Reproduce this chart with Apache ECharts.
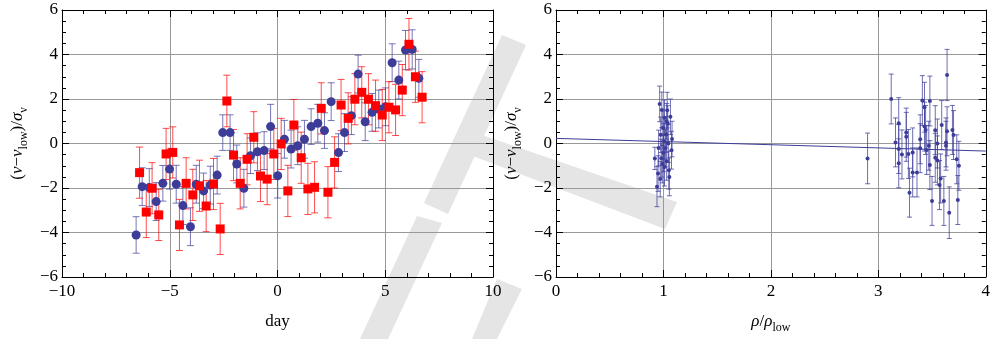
<!DOCTYPE html>
<html>
<head>
<meta charset="utf-8">
<script src="https://cdn.jsdelivr.net/npm/echarts@6/dist/echarts.min.js"></script>
<style>
html,body{margin:0;padding:0;background:#fff;}
#chart{width:993px;height:339px;}
</style>
</head>
<body>
<div id="chart"></div>
<script>
// left panel: residuals vs day
var blueX=[-6.56,-6.28,-5.95,-5.63,-5.32,-5.01,-4.70,-4.39,-4.04,-3.77,-3.43,-3.12,-2.80,-2.54,-2.20,-1.89,-1.56,-1.25,-0.93,-0.62,-0.32,0.01,0.32,0.63,0.94,1.25,1.56,1.87,2.18,2.49,2.83,3.11,3.43,3.74,4.07,4.39,4.70,5.01,5.32,5.63,5.94,6.25,6.56];
var blueY=[-4.11,-1.94,-1.98,-2.61,-1.79,-1.15,-1.83,-2.79,-3.74,-1.83,-2.13,-1.87,-1.42,0.49,0.49,-0.92,-2.01,-0.55,-0.37,-0.32,0.76,-1.45,0.19,-0.25,-0.10,0.19,0.76,0.91,0.58,1.88,-0.41,0.49,1.25,3.12,0.98,1.40,1.55,1.65,3.63,2.85,4.20,4.23,2.93];
var blueErr=[0.82,0.85,0.85,0.85,0.8,0.9,0.85,0.85,0.85,0.85,0.8,0.85,0.85,0.8,0.8,0.85,0.85,0.8,0.85,0.85,1.0,1.0,0.85,0.85,0.85,0.85,0.8,0.85,0.8,0.85,0.85,0.85,0.85,0.85,0.85,0.85,0.85,0.85,0.85,0.85,0.88,0.88,0.85];
var redX=[-6.40,-6.09,-5.82,-5.51,-5.17,-4.86,-4.55,-4.24,-3.93,-3.62,-3.31,-2.97,-2.66,-2.35,-2.04,-1.73,-1.41,-1.10,-0.79,-0.48,-0.17,0.17,0.48,0.76,1.10,1.41,1.72,2.03,2.34,2.65,2.95,3.28,3.59,3.91,4.22,4.55,4.86,5.17,5.48,5.79,6.10,6.40,6.71];
var redY=[-1.31,-3.08,-2.01,-3.21,-0.47,-0.40,-3.66,-1.79,-2.31,-1.90,-2.81,-1.82,-3.84,1.91,-0.52,-1.79,-0.71,0.28,-1.46,-1.60,-0.47,-0.02,-2.13,0.83,-0.64,-2.04,-1.97,1.58,-2.19,-0.85,1.73,1.13,1.99,2.30,1.99,1.70,1.28,1.63,1.51,2.40,4.46,3.00,2.08];
var redErr=[1.15,1.15,1.15,1.15,1.15,1.15,1.15,1.15,1.15,1.15,1.15,1.15,1.15,1.16,1.15,1.15,1.15,1.15,1.15,1.15,1.15,1.15,1.15,1.15,1.15,1.15,1.15,1.15,1.15,1.15,1.15,1.15,1.15,1.15,1.15,1.15,1.15,1.15,1.15,1.15,1.16,1.15,1.15];

// right panel: residuals vs density ratio
var rhoX=[0.92,0.94,0.95,0.955,0.965,0.975,0.98,0.985,0.99,0.995,1.0,1.005,1.01,1.01,1.02,1.025,1.03,1.035,1.04,1.045,1.05,1.055,1.065,1.075,1.08,0.97,1.03,
  2.90,3.12,3.16,3.19,3.19,3.19,3.22,3.26,3.26,3.28,3.29,3.32,3.32,3.36,3.39,3.39,3.41,3.43,3.43,3.44,3.45,3.47,3.48,3.48,3.50,3.53,3.53,3.55,3.55,3.57,3.58,3.59,3.61,3.63,3.63,3.64,3.64,3.66,3.69,3.70,3.73,3.74,3.75];
var rhoY=[-0.67,-1.94,-1.35,-0.2,1.78,0.39,-0.66,1.51,-0.92,0.70,-0.42,0.1,1.16,-1.06,-0.2,0.40,-0.8,1.5,0.9,0.0,-1.2,-1.5,1.2,-0.3,0.2,-1.6,1.0,
  -0.67,2.0,0.05,0.91,-0.25,-0.89,-0.49,0.49,0.3,-0.47,-2.21,-1.30,-0.40,-1.30,0.19,-0.21,1.93,1.63,0.76,0.61,-0.29,-0.1,1.91,-0.97,-2.58,-0.64,0.6,0.0,-0.76,-1.87,-1.57,0.83,-2.58,0.05,-0.1,3.08,0.55,-3.11,0.61,0.38,-0.71,-2.54,-1.0];
var rhoErr=[0.5,0.9,0.8,0.8,0.8,0.8,0.85,0.8,0.85,0.8,0.85,0.8,0.8,0.85,0.85,0.8,0.85,0.8,0.8,0.85,0.85,0.85,0.8,0.85,0.8,0.8,0.8,
  1.14,1.12,1.1,1.15,1.1,1.1,1.1,1.1,1.1,1.1,1.1,1.1,1.1,1.1,1.1,1.1,1.12,1.12,1.1,1.1,1.1,1.1,1.12,1.1,1.1,1.1,1.1,1.1,1.1,1.1,1.1,1.1,1.1,1.1,1.1,1.15,1.1,1.16,1.1,1.1,1.1,1.1,1.1];
var fitLine=[[0,0.23],[4,-0.34]];

// watermark stripes (page pixels)
var stripes=[
  [[502,35],[526,45],[448,214],[424,203]],
  [[417,216],[442,223],[388,339],[360,339]],
  [[497,279],[522,289],[497,339],[472,339]],
  [[482,135],[677,202],[665,229],[470,155]]
];

var BLUE='#3d3d99';
var RED='#ff0000';
var FONT='Liberation Serif';

function zip(xs,ys,es){
  var out=[];
  for(var i=0;i<xs.length;i++){
    out.push(es?[xs[i],ys[i],es[i]]:[xs[i],ys[i]]);
  }
  return out;
}

function minus(v){
  return String(v).replace('-','\u2212');
}

function errBars(capW,color){
  return function(params,api){
    var x=api.value(0),y=api.value(1),e=api.value(2);
    var top=api.coord([x,y+e]);
    var bot=api.coord([x,y-e]);
    var st={stroke:color,lineWidth:1};
    return {type:'group',children:[
      {type:'line',shape:{x1:top[0],y1:top[1],x2:bot[0],y2:bot[1]},style:st},
      {type:'line',shape:{x1:top[0]-capW,y1:top[1],x2:top[0]+capW,y2:top[1]},style:st},
      {type:'line',shape:{x1:bot[0]-capW,y1:bot[1],x2:bot[0]+capW,y2:bot[1]},style:st}
    ]};
  };
}

function xAx(grid,min,max,interval,split,pos,labels){
  return {
    gridIndex:grid,type:'value',min:min,max:max,interval:interval,position:pos,
    axisLine:{show:true,onZero:false,lineStyle:{color:'#000',width:1}},
    axisTick:{show:true,inside:true,length:7,lineStyle:{color:'#000'}},
    minorTick:{show:true,splitNumber:split,length:4,lineStyle:{color:'#000'}},
    splitLine:{show:labels,lineStyle:{color:'#999',width:1}},
    axisLabel:{show:labels,formatter:minus,fontFamily:FONT,fontSize:17,color:'#000',margin:6}
  };
}
function yAx(grid,pos,labels){
  return {
    gridIndex:grid,type:'value',min:-6,max:6,interval:2,position:pos,
    axisLine:{show:true,onZero:false,lineStyle:{color:'#000',width:1}},
    axisTick:{show:true,inside:true,length:7,lineStyle:{color:'#000'}},
    minorTick:{show:true,splitNumber:4,length:4,lineStyle:{color:'#000'}},
    splitLine:{show:labels,lineStyle:{color:'#999',width:1}},
    axisLabel:{show:labels,formatter:minus,fontFamily:FONT,fontSize:17,color:'#000',margin:4}
  };
}

var yName='{i|\u03bd}{a|\u2212}{i|\u03bd}{s|low}{a|)/}{i|\u03c3}{s|\u03bd}';
var nameRich={
  a:{fontFamily:FONT,fontSize:17,color:'#000',verticalAlign:'bottom',padding:[0,0,4,0]},
  i:{fontFamily:FONT,fontSize:17,fontStyle:'italic',color:'#000',verticalAlign:'bottom',padding:[0,0,4,0]},
  s:{fontFamily:FONT,fontSize:12,color:'#000',verticalAlign:'bottom'}
};

var xs=[xAx(0,-10,10,5,5,'bottom',true),xAx(0,-10,10,5,5,'top',false),
        xAx(1,0,4,1,5,'bottom',true),xAx(1,0,4,1,5,'top',false)];
xs[0].name='day';
xs[0].nameLocation='middle';
xs[0].nameGap=36;
xs[0].nameTextStyle={fontFamily:FONT,fontSize:17,color:'#000'};
xs[2].name='{i|\u03c1}{a|/}{i|\u03c1}{s|low}';
xs[2].nameLocation='middle';
xs[2].nameGap=36;
xs[2].nameTextStyle={rich:nameRich};

var ys=[yAx(0,'left',true),yAx(0,'right',false),yAx(1,'left',true),yAx(1,'right',false)];
[0,2].forEach(function(k){
  ys[k].name='{a|(}'+yName;
  ys[k].nameLocation='middle';
  ys[k].nameRotate=90;
  ys[k].nameGap=32;
  ys[k].nameTextStyle={rich:nameRich};
});

var graphics=stripes.map(function(p){
  return {type:'polygon',z:-10,silent:true,shape:{points:p},style:{fill:'#e5e5e5'}};
});

var myChart=echarts.init(document.getElementById('chart'));
var option={
  backgroundColor:'#fff',
  animation:false,
  graphic:graphics,
  grid:[
    {left:62,right:500,top:10,bottom:62},
    {left:556,right:3,top:10,bottom:62}
  ],
  xAxis:xs,
  yAxis:ys,
  series:[
    {type:'custom',xAxisIndex:0,yAxisIndex:0,renderItem:errBars(3.5,'rgba(61,61,153,0.7)'),encode:{x:0,y:1},data:zip(blueX,blueY,blueErr),z:3},
    {type:'custom',xAxisIndex:0,yAxisIndex:0,renderItem:errBars(3.5,'rgba(255,0,0,0.7)'),encode:{x:0,y:1},data:zip(redX,redY,redErr),z:3},
    {type:'scatter',xAxisIndex:0,yAxisIndex:0,symbol:'circle',symbolSize:9,itemStyle:{color:BLUE,opacity:1},data:zip(blueX,blueY),z:4},
    {type:'scatter',xAxisIndex:0,yAxisIndex:0,symbol:'rect',symbolSize:9,itemStyle:{color:RED,opacity:1},data:zip(redX,redY),z:5},
    {type:'line',xAxisIndex:2,yAxisIndex:2,data:fitLine,symbol:'none',lineStyle:{color:BLUE,width:1},z:3},
    {type:'custom',xAxisIndex:2,yAxisIndex:2,renderItem:errBars(2.5,'rgba(61,61,153,0.75)'),encode:{x:0,y:1},data:zip(rhoX,rhoY,rhoErr),z:3},
    {type:'scatter',xAxisIndex:2,yAxisIndex:2,symbol:'circle',symbolSize:4,itemStyle:{color:BLUE,opacity:1},data:zip(rhoX,rhoY),z:4}
  ]
};
myChart.setOption(option);
</script>
</body>
</html>
